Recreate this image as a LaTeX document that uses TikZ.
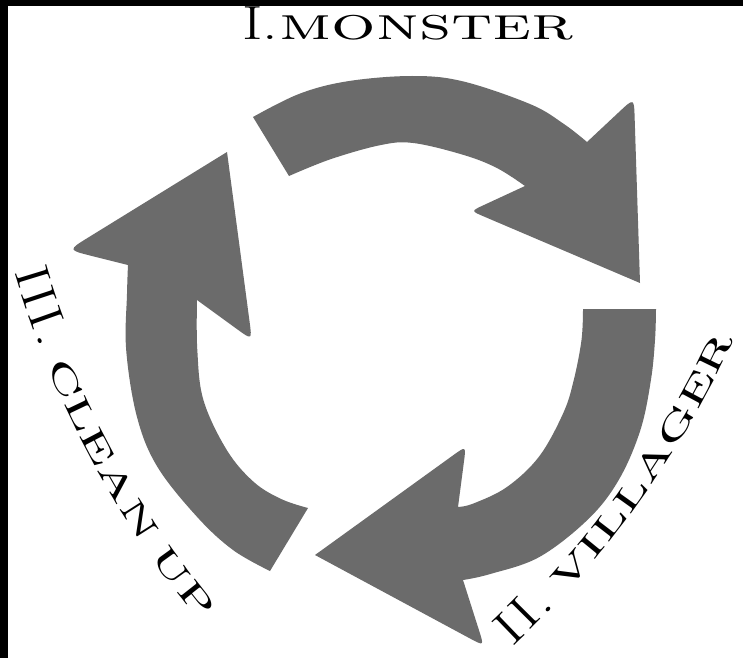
\documentclass[tikz,border=0pt]{standalone}
\usepackage{graphicx}
\usetikzlibrary{calc}
\definecolor{arrowgray}{HTML}{6B6B6B}
\tikzset{
  cyclearrow/.style={fill=arrowgray, draw=none},
  frameband/.style={fill=black, draw=none},
  titletext/.style={inner sep=0pt, font=\fontsize{46}{46}\selectfont},
  arcchar/.style={anchor=base, inner sep=0pt, outer sep=0pt},
}
% roman numeral part and small-caps (widened) part of the labels
\newcommand{\rmx}[1]{{\fontsize{48}{48}\selectfont\scalebox{1.3}[1]{#1}}}
\newcommand{\scx}[1]{{\fontsize{44}{44}\selectfont\scshape\scalebox{1.6}[1]{#1}}}
\begin{document}
\begin{tikzpicture}[x=1pt,y=-1pt]
\useasboundingbox (0,0) rectangle (743,658);
\fill[white] (0,0) rectangle (743,658);
\fill[frameband] (0,0) rectangle (743,6);
\fill[frameband] (0,0) rectangle (8,658);

% ---------- arrow I (top) ----------
\coordinate (a1tailO) at (253,117);
\coordinate (a1tailI) at (289,176);
\coordinate (a1notchO) at (587,142);
\coordinate (a1wingO) at (634,98);
\coordinate (a1tip) at (640,283);
\coordinate (a1wingI) at (471,211);
\coordinate (a1notchI) at (525,186);
\fill[cyclearrow] (a1tailO)
  -- plot[smooth,tension=0.6] coordinates {(a1tailO) (299.4,93.8) (348,81.2) (412.1,76) (463.1,81.4) (530.6,104.3) (563.9,124) (a1notchO)}
  -- ($(a1wingO)!20pt!(a1notchO)$) .. controls (a1wingO) .. ($(a1wingO)!20pt!(a1tip)$)
  -- (a1tip)
  -- ($(a1wingI)!14pt!(a1tip)$) .. controls (a1wingI) .. ($(a1wingI)!14pt!(a1notchI)$)
  -- (a1notchI)
  -- plot[smooth,tension=0.6] coordinates {(a1notchI) (496.9,168) (463.1,154.8) (413.2,143) (380.1,145.2) (330.3,159.3) (a1tailI)}
  -- cycle;

% ---------- arrow II (right) ----------
\coordinate (a2tailO) at (656,309);
\coordinate (a2tailI) at (583,309);
\coordinate (a2notchO) at (463,580);
\coordinate (a2wingO) at (484,646);
\coordinate (a2tip) at (315,555);
\coordinate (a2wingI) at (466,446);
\coordinate (a2notchI) at (458,507);
\fill[cyclearrow] (a2tailO)
  -- plot[smooth,tension=0.6] coordinates {(a2tailO) (655,340) (650.9,380.1) (640.4,430) (619.1,479.3) (588.8,518.6) (539.7,556.8) (490.3,574) (a2notchO)}
  -- ($(a2wingO)!16pt!(a2notchO)$) .. controls (a2wingO) .. ($(a2wingO)!16pt!(a2tip)$)
  -- (a2tip)
  -- ($(a2wingI)!16pt!(a2tip)$) .. controls (a2wingI) .. ($(a2wingI)!16pt!(a2notchI)$)
  -- (a2notchI)
  -- plot[smooth,tension=0.6] coordinates {(a2notchI) (473.4,503.5) (507.1,486.9) (539.1,456.5) (563.2,413.2) (573.7,380.3) (581.5,340) (a2tailI)}
  -- cycle;

% ---------- arrow III (left) ----------
\coordinate (a3tailO) at (270,571);
\coordinate (a3tailI) at (308,508);
\coordinate (a3notchO) at (128,265);
\coordinate (a3wingO) at (68,250);
\coordinate (a3tip) at (227,152);
\coordinate (a3wingI) at (252,340);
\coordinate (a3notchI) at (197,300);
\fill[cyclearrow] (a3tailO)
  -- plot[smooth,tension=0.6] coordinates {(a3tailO) (233,550) (197.2,517) (157.4,466.8) (137,417) (126.2,350.1) (127,293.8) (a3notchO)}
  -- ($(a3wingO)!24pt!(a3notchO)$) .. controls (a3wingO) .. ($(a3wingO)!24pt!(a3tip)$)
  -- (a3tip)
  -- ($(a3wingI)!18pt!(a3tip)$) .. controls (a3wingI) .. ($(a3wingI)!18pt!(a3notchI)$)
  -- (a3notchI)
  -- plot[smooth,tension=0.6] coordinates {(a3notchI) (197.3,350) (203.5,400.3) (226.9,450.2) (253.8,482) (281.6,499.2) (a3tailI)}
  -- cycle;

% ---------- labels ----------
\node[titletext, anchor=base] (title) at (408,40) {\rmx{I.}\kern1pt\scalebox{1.52}[1]{\scshape monster}};

% II. VILLAGER  (letters on an arc of radius 1000 round c2)
\coordinate (c2) at (-173.8,-79.8);
\node[arcchar, rotate=43.937] (vil1)  at ($(c2)+(46.063:1000)$) {\rmx{I}};
\node[arcchar, rotate=45.212] (vil2)  at ($(c2)+(44.788:1000)$) {\rmx{I}};
\node[arcchar, rotate=46.340] (vil3)  at ($(c2)+(43.660:1000)$) {\rmx{.}};
\node[arcchar, rotate=48.907] (vil4)  at ($(c2)+(41.093:1000)$) {\scx{v}};
\node[arcchar, rotate=50.752] (vil5)  at ($(c2)+(39.248:1000)$) {\scx{i}};
\node[arcchar, rotate=52.396] (vil6)  at ($(c2)+(37.604:1000)$) {\scx{l}};
\node[arcchar, rotate=54.466] (vil7)  at ($(c2)+(35.534:1000)$) {\scx{l}};
\node[arcchar, rotate=56.737] (vil8)  at ($(c2)+(33.263:1000)$) {\scx{a}};
\node[arcchar, rotate=59.266] (vil9)  at ($(c2)+(30.734:1000)$) {\scx{g}};
\node[arcchar, rotate=61.684] (vil10) at ($(c2)+(28.316:1000)$) {\scx{e}};
\node[arcchar, rotate=64.024] (vil11) at ($(c2)+(25.976:1000)$) {\scx{r}};

% III. CLEAN UP  (letters on an arc of radius 1000 round c3)
\coordinate (c3) at (973.3,-12.3);
\node[arcchar, rotate=-72.955] (cln1)  at ($(c3)+(162.955:1000)$) {\rmx{I}};
\node[arcchar, rotate=-71.664] (cln2)  at ($(c3)+(161.664:1000)$) {\rmx{I}};
\node[arcchar, rotate=-70.373] (cln3)  at ($(c3)+(160.373:1000)$) {\rmx{I}};
\node[arcchar, rotate=-69.231] (cln4)  at ($(c3)+(159.231:1000)$) {\rmx{.}};
\node[arcchar, rotate=-66.702] (cln5)  at ($(c3)+(156.702:1000)$) {\scx{c}};
\node[arcchar, rotate=-64.475] (cln6)  at ($(c3)+(154.475:1000)$) {\scx{l}};
\node[arcchar, rotate=-62.315] (cln7)  at ($(c3)+(152.315:1000)$) {\scx{e}};
\node[arcchar, rotate=-59.953] (cln8)  at ($(c3)+(149.953:1000)$) {\scx{a}};
\node[arcchar, rotate=-57.480] (cln9)  at ($(c3)+(147.480:1000)$) {\scx{n}};
\node[arcchar, rotate=-54.167] (cln10) at ($(c3)+(144.167:1000)$) {\scx{u}};
\node[arcchar, rotate=-51.805] (cln11) at ($(c3)+(141.805:1000)$) {\scx{p}};
\end{tikzpicture}
\end{document}
